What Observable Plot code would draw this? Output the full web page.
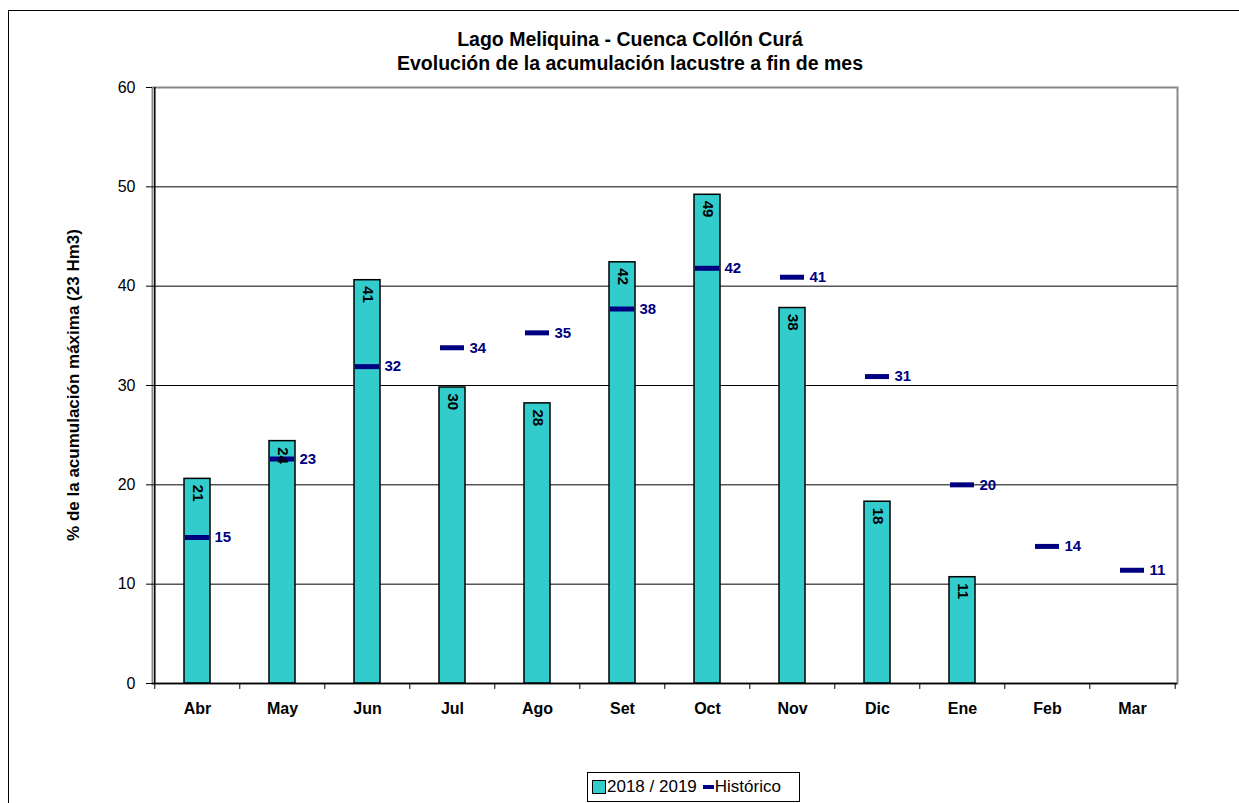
<!DOCTYPE html>
<html>
<head>
<meta charset="utf-8">
<script src="https://cdn.jsdelivr.net/npm/d3@7"></script>
<script src="https://cdn.jsdelivr.net/npm/@observablehq/plot@0.6"></script>
<style>
  body { margin: 0; background: #fff; font-family: "Liberation Sans", Arial, sans-serif; }
  #wrap { position: relative; width: 1239px; height: 803px; overflow: hidden; background: #fff; }
  #border { position: absolute; left: 8px; top: 10px; width: 1300px; height: 900px; border: 1.5px solid #000; box-sizing: border-box; }
  #chart { position: absolute; left: 0; top: 0; }
  #title { position: absolute; left: 0; top: 27px; width: 1260px; text-align: center; font-weight: bold; font-size: 19.5px; line-height: 24px; color: #000; }
  #ylabel { position: absolute; left: 74px; top: 385px; transform: translate(-50%, -50%) rotate(-90deg); white-space: nowrap; font-weight: bold; font-size: 17px; color: #000; }
  #legend { position: absolute; left: 587px; top: 772px; width: 213px; height: 30px; border: 1px solid #000; box-sizing: border-box; display: flex; align-items: center; font-size: 17px; color: #000; padding-left: 4px; }
  .sw { display: inline-block; width: 12px; height: 12px; background: #33CCCC; border: 1px solid #000; margin-right: 1px; }
  .dash { display: inline-block; width: 11px; height: 4px; background: #000080; margin-left: 6px; margin-right: 1px; }
</style>
</head>
<body>
<div id="wrap">
  <div id="border"></div>
  <div id="chart"></div>
  <div id="title"></div>
  <div id="ylabel"></div>
  <div id="legend"></div>
</div>
<script>
const titleLines = ["Lago Meliquina - Cuenca Collón Curá", "Evolución de la acumulación lacustre a fin de mes"];
const yLabel = "% de la acumulación máxima (23 Hm3)";
const months = ["Abr", "May", "Jun", "Jul", "Ago", "Set", "Oct", "Nov", "Dic", "Ene", "Feb", "Mar"];
const current = [20.6, 24.4, 40.6, 29.8, 28.2, 42.4, 49.2, 37.8, 18.3, 10.7, null, null];
const historic = [14.7, 22.6, 31.9, 33.8, 35.3, 37.7, 41.8, 40.9, 30.9, 20.0, 13.8, 11.4];
const yTicks = [0, 10, 20, 30, 40, 50, 60];
const seriesNames = ["2018 / 2019", "Histórico"];

document.getElementById("title").innerHTML = titleLines.join("<br>");
document.getElementById("ylabel").textContent = yLabel;
document.getElementById("legend").innerHTML =
  `<span class="sw"></span><span>${seriesNames[0]}</span><span class="dash"></span><span>${seriesNames[1]}</span>`;

const W = 1239, H = 803, ML = 152, MR = 62, MT = 87, MB = 120;
const step = (W - ML - MR) / months.length;
const fmt = d3.format(".0f");

const bars = months.map((m, i) => ({month: m, value: current[i]})).filter(d => d.value != null);
const hist = months.map((m, i) => ({month: m, value: historic[i]}));

const chart = Plot.plot({
  width: W, height: H,
  marginLeft: ML, marginRight: MR, marginTop: MT, marginBottom: MB,
  style: {fontFamily: "Liberation Sans, Arial, sans-serif", color: "#000", background: "transparent"},
  x: {domain: months, paddingInner: 0.7, paddingOuter: 0.35},
  y: {domain: [0, 60]},
  marks: [
    Plot.frame({stroke: "#888", strokeWidth: 2}),
    Plot.ruleY(yTicks.filter(t => t > 0 && t < 60), {stroke: "#000", strokeWidth: 1}),
    Plot.barY(bars, {x: "month", y: "value", fill: "#33CCCC", stroke: "#000", strokeWidth: 1.5}),
    Plot.tickY(hist, {x: "month", y: "value", stroke: "#000080", strokeWidth: 5, insetLeft: 1, insetRight: 1}),
    Plot.text(bars, {x: "month", y: "value", text: d => fmt(d.value), rotate: 90, textAnchor: "start", dy: 6, fontSize: 15, fontWeight: "bold", fill: "#000"}),
    Plot.text(hist, {x: "month", y: "value", text: d => fmt(d.value), textAnchor: "start", dx: 17, fontSize: 15, fontWeight: "bold", fill: "#000080"}),
    Plot.ruleY([0], {stroke: "#000", strokeWidth: 1.5}),
    Plot.ruleX([months[0]], {x: d => d, stroke: "#000", strokeWidth: 1.5, dx: -step / 2}),
    Plot.ruleX(months, {x: d => d, y1: 0, y2: -0.6, stroke: "#000", strokeWidth: 1, dx: -step / 2}),
    Plot.ruleX([months[months.length - 1]], {x: d => d, y1: 0, y2: -0.6, stroke: "#000", strokeWidth: 1, dx: step / 2}),
    Plot.axisY({ticks: yTicks, tickSize: 6, tickPadding: 11, fontSize: 16, label: null, tickFormat: d => String(d)}),
    Plot.axisX({tickSize: 0, tickPadding: 19, fontSize: 16, fontWeight: "bold", label: null})
  ]
});
document.getElementById("chart").appendChild(chart);
</script>
</body>
</html>
